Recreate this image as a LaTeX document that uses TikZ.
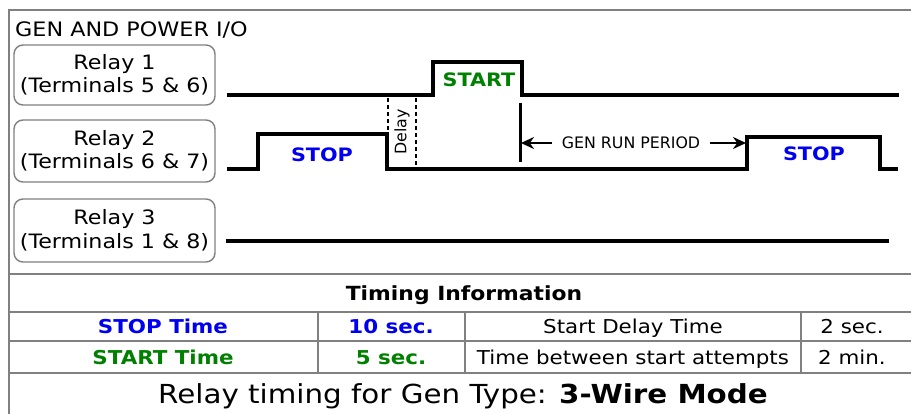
\documentclass[tikz,border=0pt]{standalone}
\usepackage{fontspec}
\setmainfont{DejaVu Sans}[FakeStretch=1.12]
\newfontfamily\plainsans{DejaVu Sans}
\usetikzlibrary{arrows.meta}
\definecolor{framegray}{RGB}{128,128,128}
\definecolor{stopblue}{RGB}{0,0,240}
\definecolor{startgreen}{RGB}{0,128,0}
\begin{document}
\begin{tikzpicture}[x=1pt,y=-1pt,
  frameline/.style={draw=framegray,line width=2.6pt},
  tableline/.style={draw=framegray,line width=2.2pt},
  relaybox/.style={draw=framegray,line width=1.4pt,rounded corners=9pt,minimum width=201pt,align=center,font=\fontsize{19.8}{23.5}\selectfont,inner sep=0pt},
  wave/.style={line width=4pt,line join=miter},
  dashline/.style={line width=2pt,dash pattern=on 4pt off 3pt},
  wavelabel/.style={font=\fontsize{18.5}{20}\selectfont\bfseries},
  smalllabel/.style={font=\plainsans\fontsize{15.8}{17}\selectfont},
  celltext/.style={anchor=base,font=\fontsize{19.1}{20}\selectfont,inner sep=0pt},
  boldcell/.style={celltext,font=\fontsize{19.1}{20}\selectfont\bfseries},
  marker/.style={line width=2pt,-{Stealth[length=13pt,width=12pt]}}
]
\useasboundingbox (0,0) rectangle (911,414);
\fill[white] (0,0) rectangle (911,414);

% outer frame
\draw[frameline] (9,414) -- (9,10) -- (911,10);

% title
\node[anchor=base west,inner sep=0pt,font=\fontsize{19.9}{22}\selectfont] (title) at (15,37) {GEN AND POWER I/O};

% relay boxes
\node[relaybox,minimum height=60pt] (r1) at (114.5,75) {Relay 1\\(Terminals 5 \& 6)};
\node[relaybox,minimum height=62pt] (r2) at (114.5,151) {Relay 2\\(Terminals 6 \& 7)};
\node[relaybox,minimum height=63pt] (r3) at (114.5,230.5) {Relay 3\\(Terminals 1 \& 8)};

% waveforms
\draw[wave] (227,95) -- (433,95) -- (433,62) -- (522,62) -- (522,95) -- (899,95);
\draw[wave] (227,169) -- (258,169) -- (258,134) -- (387,134) -- (387,169) -- (747,169) -- (747,137) -- (880,137) -- (880,169) -- (898,169);
\draw[wave] (226,241) -- (889,241);

\node[wavelabel,text=startgreen] (start) at (479,80) {START};
\node[wavelabel,text=stopblue] (stop1) at (322,155) {STOP};
\node[wavelabel,text=stopblue] (stop2) at (814,154) {STOP};

% delay
\draw[dashline] (388,98) -- (388,166);
\draw[dashline] (416,98) -- (416,166);
\node[smalllabel,rotate=90] (delay) at (402,132) {Delay};

% gen run period
\coordinate (runtop) at (520,103);
\coordinate (runbot) at (520,162);
\draw[line width=3pt] (runtop) -- (runbot);
\node[smalllabel] (genrun) at (631,143) {GEN RUN PERIOD};
\coordinate (runleft) at (521,143);
\coordinate (runright) at (746,143);
\draw[marker] (genrun.west) ++(-6pt,0) -- (runleft);
\draw[marker] (genrun.east) ++(6pt,0) -- (runright);

% table
\draw[tableline] (9,274) -- (911,274);
\draw[tableline] (9,312) -- (911,312);
\draw[tableline] (9,341) -- (911,341);
\draw[tableline] (9,373) -- (911,373);
\draw[tableline] (318,312) -- (318,373);
\draw[tableline] (465,312) -- (465,373);
\draw[tableline] (801,312) -- (801,373);

\node[boldcell,font=\fontsize{19.5}{20}\selectfont\bfseries] (tinfo) at (464,301) {Timing Information};
\node[boldcell,text=stopblue] (stoptime) at (163,334) {STOP Time};
\node[boldcell,text=stopblue] (stopval) at (391,334) {10 sec.};
\node[celltext] (sdtime) at (633,334) {Start Delay Time};
\node[celltext] (sdval) at (852,334) {2 sec.};
\node[boldcell,text=startgreen] (starttime) at (163,364) {START Time};
\node[boldcell,text=startgreen] (startval) at (391,364) {5 sec.};
\node[celltext] (tbtime) at (633,364) {Time between start attempts};
\node[celltext] (tbval) at (852,364) {2 min.};

\node[celltext,font=\fontsize{26.2}{28}\selectfont] (caption) at (463,403) {Relay timing for Gen Type: \textbf{3-Wire Mode}};
\end{tikzpicture}
\end{document}
